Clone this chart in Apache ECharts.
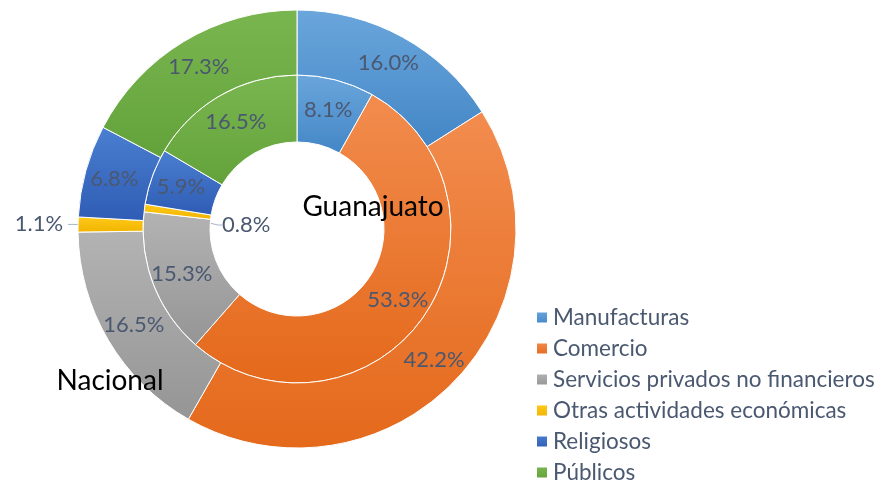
<!DOCTYPE html>
<html>
<head>
<meta charset="utf-8">
<script src="https://cdn.jsdelivr.net/npm/echarts@6/dist/echarts.min.js"></script>
<style>
  html, body { margin: 0; padding: 0; background: #fff; }
  #chart { width: 887px; height: 483px; }
</style>
</head>
<body>
<div id="chart"></div>
<script>
// categories (legend order, clockwise from 12 o'clock)
var categories = ['Manufacturas', 'Comercio', 'Servicios privados no financieros',
    'Otras actividades económicas', 'Religiosos', 'Públicos'];
// inner ring: Guanajuato, outer ring: Nacional (percent)
var guanajuato = [8.1, 53.3, 15.3, 0.8, 5.9, 16.5];
var nacional = [16.0, 42.2, 16.5, 1.1, 6.8, 17.3];

var baseColors = [
    ['#6aa6dc', '#4386c6'],
    ['#f28c4e', '#e4691b'],
    ['#b3b3b3', '#959595'],
    ['#ffc91a', '#f0b400'],
    ['#4a7fd0', '#2f5cb5'],
    ['#7ab650', '#63a23a']
];

function grad(i) {
    return new echarts.graphic.LinearGradient(0, 0, 0, 1, [
        { offset: 0, color: baseColors[i][0] },
        { offset: 1, color: baseColors[i][1] }
    ]);
}

var FONT = 'Lato';
var LABEL_COLOR = '#4a5870';

function buildData(values, smallIdx) {
    return values.map(function (v, i) {
        var item = { name: categories[i], value: v, itemStyle: { color: grad(i) } };
        if (i === smallIdx) {
            item.label = { position: 'outside' };
            item.labelLine = { show: true };
        }
        return item;
    });
}

var chart = echarts.init(document.getElementById('chart'));

var option = {
    animation: false,
    backgroundColor: '#fff',
    legend: {
        orient: 'vertical',
        left: 535,
        top: 306,
        height: 200,
        padding: 0,
        icon: 'rect',
        itemWidth: 12,
        itemHeight: 12,
        itemGap: 8,
        textStyle: { fontFamily: FONT, fontSize: 22.5, color: LABEL_COLOR, lineHeight: 22 },
        data: categories
    },
    graphic: [
        { type: 'text', z: 100, x: 373, y: 207,
          style: { text: 'Guanajuato', font: '28px ' + FONT, fill: '#000',
                   align: 'center', verticalAlign: 'middle' } },
        { type: 'text', z: 100, x: 110, y: 381,
          style: { text: 'Nacional', font: '28px ' + FONT, fill: '#000',
                   align: 'center', verticalAlign: 'middle' } }
    ],
    series: [
        {
            name: 'Guanajuato',
            type: 'pie',
            center: [297, 229],
            radius: [87, 154],
            startAngle: 90,
            itemStyle: { borderColor: '#fff', borderWidth: 1 },
            label: {
                show: true,
                position: 'inside',
                fontFamily: FONT,
                fontSize: 22,
                color: LABEL_COLOR,
                formatter: function (p) { return p.value.toFixed(1) + '%'; }
            },
            labelLine: { show: false, length: 6, length2: 4, lineStyle: { color: '#a9b6c8', width: 1 } },
            labelLayout: function (p) {
                if (p.dataIndex === 3) {
                    return { x: 222, y: 225, align: 'left', verticalAlign: 'middle' };
                }
            },
            data: buildData(guanajuato, 3)
        },
        {
            name: 'Nacional',
            type: 'pie',
            center: [297, 229],
            radius: [154, 219],
            startAngle: 90,
            itemStyle: { borderColor: '#fff', borderWidth: 1 },
            label: {
                show: true,
                position: 'inside',
                fontFamily: FONT,
                fontSize: 22,
                color: LABEL_COLOR,
                formatter: function (p) { return p.value.toFixed(1) + '%'; }
            },
            labelLine: { show: false, length: 6, length2: 4, lineStyle: { color: '#a9b6c8', width: 1 } },
            data: buildData(nacional, 3)
        }
    ]
};

chart.setOption(option);
</script>
</body>
</html>
